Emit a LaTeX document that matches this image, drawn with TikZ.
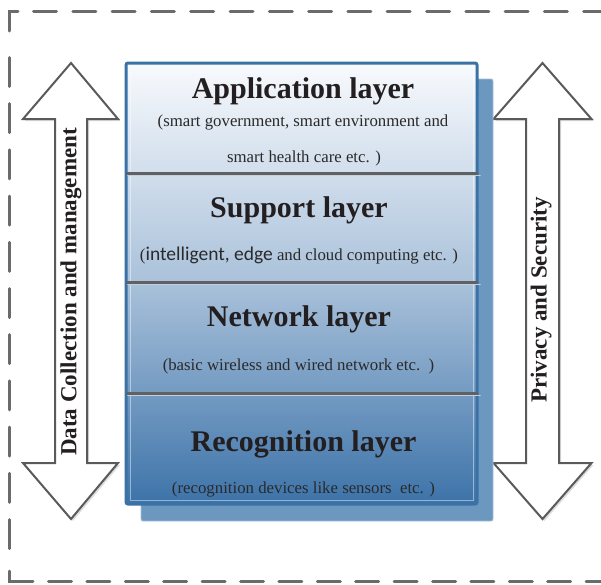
\documentclass[tikz,border=0pt]{standalone}
\usepackage{fontspec}
\setmainfont{Liberation Serif}
\newfontfamily\sansfam{Carlito}
\definecolor{framegray}{HTML}{6B6B6B}
\definecolor{boxedge}{HTML}{3A72A6}
\definecolor{boxtop}{HTML}{F8FAFD}
\definecolor{boxmid}{HTML}{A9C1DA}
\definecolor{boxbot}{HTML}{3D73A9}
\definecolor{backfill}{HTML}{6C98C0}
\definecolor{backedge}{HTML}{A4BED7}
\definecolor{sepgray}{HTML}{5F6163}
\definecolor{seplight}{HTML}{C4CFDA}
\definecolor{arrowgray}{HTML}{5A5A5A}
\definecolor{inkdark}{HTML}{231F20}
\definecolor{inksub}{HTML}{2A2A2A}
\tikzset{
  frameline/.style={draw=framegray, line width=3pt, line cap=round},
  sidearrow/.style={draw=arrowgray, line width=2pt, fill=white, line join=miter},
  arrowshadow/.style={fill=black!13, draw=none},
  separator/.style={draw=sepgray, line width=3pt, line cap=round},
  sepshadow/.style={draw=seplight, line width=1.6pt, line cap=round},
  layertitle/.style={anchor=base, inner sep=0pt, text=inkdark,
    font=\fontsize{30}{36}\selectfont\bfseries},
  layernote/.style={anchor=base, inner sep=0pt, text=inksub,
    font=\fontsize{16.8}{20}\selectfont},
  sidetext/.style={rotate=90, inner sep=0pt, text=inkdark,
    font=\fontsize{23}{27}\selectfont\bfseries}
}
\begin{document}
\begin{tikzpicture}[x=1pt, y=-1pt]
\useasboundingbox (0,0) rectangle (601,584);

% dashed outer frame
\draw[frameline] (9,31) -- (9,11) -- (18,11);
\draw[frameline, dash pattern=on 23pt off 16.3pt] (33.5,11) -- (640,11);
\draw[frameline, dash pattern=on 29pt off 17.2pt] (9,57.5) -- (9,552);
\draw[frameline] (9,571) -- (9,581) -- (33,581);
\draw[frameline, dash pattern=on 23pt off 15.4pt] (48.5,581) -- (640,581);

% left double arrow
\fill[arrowshadow] (73,65) -- (120,121) -- (89,121) -- (89,465) -- (120,465)
  -- (73,521) -- (25,465) -- (57,465) -- (57,121) -- (25,121) -- cycle;
\draw[sidearrow] (71,63) -- (118,119) -- (87,119) -- (87,463) -- (118,463)
  -- (71,519) -- (23,463) -- (55,463) -- (55,119) -- (23,119) -- cycle;
\node[sidetext] (dcm) at (71,292) {Data Collection and management};

% right double arrow
\fill[arrowshadow] (544.5,65) -- (593.5,121) -- (561,121) -- (561,465) -- (593.5,465)
  -- (544.5,521) -- (495.5,465) -- (528,465) -- (528,121) -- (495.5,121) -- cycle;
\draw[sidearrow] (542.5,63) -- (591.5,119) -- (559,119) -- (559,463) -- (591.5,463)
  -- (542.5,519) -- (493.5,463) -- (526,463) -- (526,119) -- (493.5,119) -- cycle;
\node[sidetext] (ps) at (541,300) {Privacy and Security};

% stacked layer block: back plate and front panel
\draw[fill=backfill, draw=backedge, line width=0.9pt, rounded corners=2pt]
  (141,79) rectangle (493,521);
\draw[draw=boxedge, line width=3pt, rounded corners=2pt,
  top color=boxtop, bottom color=boxbot, middle color=boxmid]
  (126,63) rectangle (477,504);
\draw[white, opacity=0.45, line width=0.8pt] (130,67) rectangle (473,500);

% layer separators
\foreach \yy in {173,282,393}{
  \draw[sepshadow] (128,\yy+2.6) -- (480,\yy+2.6);
  \draw[separator] (127,\yy) -- (477,\yy);
}

% layer texts
\node[layertitle] (app) at (303,98) {Application layer};
\node[layernote] (appa) at (303,126.5) {(smart government, smart environment and};
\node[layernote] (appb) at (304,162) {smart health care etc. )};

\node[layertitle] (sup) at (299,217.5) {Support layer};
\node[layernote] (supa) at (299,260) {(\sansfam\fontsize{19.5}{22}\selectfont intelligent, edge\rmfamily\fontsize{16.8}{20}\selectfont{} and cloud computing etc. )};

\node[layertitle] (net) at (299,326.5) {Network layer};
\node[layernote] (neta) at (298.5,370) {(basic wireless and wired network etc.~~)};

\node[layertitle] (rec) at (303.5,451) {Recognition layer};
\node[layernote] (reca) at (303.5,493) {(recognition devices like sensors~~etc. )};
\end{tikzpicture}
\end{document}
